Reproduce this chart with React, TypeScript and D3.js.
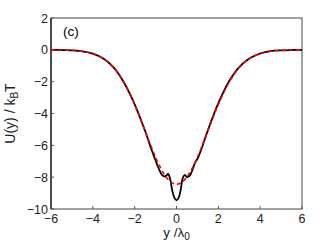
import React, { useRef, useEffect } from 'react';
import * as d3 from 'd3';

// simulated potential (black solid)
const simX = [-6, -5.5, -5, -4.5, -4, -3.5, -3, -2.5, -2, -1.5, -1.2, -1.1, -1.0, -0.9, -0.8, -0.7, -0.6, -0.5, -0.4, -0.3, -0.2, -0.1, 0,
  0.1, 0.2, 0.3, 0.4, 0.5, 0.6, 0.7, 0.8, 0.9, 1.0, 1.1, 1.2, 1.5, 2, 2.5, 3, 3.5, 4, 4.5, 5, 5.5, 6];
const simU = [0, -0.01, -0.03, -0.09, -0.24, -0.55, -1.12, -2.08, -3.42, -5.1, -6.25, -6.6, -6.95, -7.3, -7.6, -7.85, -7.95, -7.92, -7.8, -8.15, -8.85, -9.3, -9.45,
  -9.3, -8.8, -8.05, -7.85, -8.0, -7.95, -7.75, -7.4, -7.05, -6.85, -6.55, -6.2, -5.05, -3.35, -2.0, -1.08, -0.53, -0.23, -0.08, -0.03, -0.01, 0];

// smooth fit (red dashed)
const fitX = [-6, -5.5, -5, -4.5, -4, -3.5, -3, -2.5, -2, -1.75, -1.5, -1.25, -1, -0.75, -0.5, -0.25, 0,
  0.25, 0.5, 0.75, 1, 1.25, 1.5, 1.75, 2, 2.5, 3, 3.5, 4, 4.5, 5, 5.5, 6];
const fitU = [0, -0.01, -0.03, -0.09, -0.23, -0.54, -1.11, -2.07, -3.43, -4.24, -5.09, -5.94, -6.75, -7.44, -7.99, -8.33, -8.45,
  -8.33, -7.99, -7.44, -6.75, -5.94, -5.09, -4.24, -3.43, -2.07, -1.11, -0.54, -0.23, -0.09, -0.03, -0.01, 0];

const xTicks = [-6, -4, -2, 0, 2, 4, 6];
const yTicks = [-10, -8, -6, -4, -2, 0, 2];

const App = () => {
  const ref = useRef<SVGSVGElement>(null);
  useEffect(() => {
    const svg = d3.select(ref.current);
    svg.selectAll('*').remove();

    const left = 51, right = 302, top = 18, bottom = 209;
    const x = d3.scaleLinear().domain([-6, 6]).range([left, right]);
    const y = d3.scaleLinear().domain([-10, 2]).range([bottom, top]);
    const font = 'Liberation Sans, Arial, sans-serif';

    svg.append('rect').attr('width', 332).attr('height', 247).attr('fill', '#fff');

    // box
    svg.append('rect').attr('x', left).attr('y', top).attr('width', right - left).attr('height', bottom - top)
      .attr('fill', 'none').attr('stroke', '#444').attr('stroke-width', 1);
    svg.append('line').attr('x1', left).attr('x2', left).attr('y1', top).attr('y2', bottom)
      .attr('stroke', '#111').attr('stroke-width', 1.2);

    // ticks inside
    svg.selectAll('.xt').data(xTicks).join('line').attr('class', 'xt')
      .attr('x1', d => x(d)).attr('x2', d => x(d)).attr('y1', bottom).attr('y2', bottom - 3)
      .attr('stroke', '#555');
    svg.selectAll('.yt').data(yTicks).join('line').attr('class', 'yt')
      .attr('x1', left).attr('x2', left + 3).attr('y1', d => y(d)).attr('y2', d => y(d))
      .attr('stroke', '#555');

    svg.selectAll('.xl').data(xTicks).join('text').attr('class', 'xl')
      .attr('x', d => x(d)).attr('y', 222.5).attr('text-anchor', 'middle')
      .style('font-family', font).style('font-size', '12.5px').attr('fill', '#222')
      .text(d => (d < 0 ? '\u2212' + Math.abs(d) : String(d)));
    svg.selectAll('.yl').data(yTicks).join('text').attr('class', 'yl')
      .attr('x', 48).attr('y', d => y(d) + 4.5).attr('text-anchor', 'end')
      .style('font-family', font).style('font-size', '12.5px').attr('fill', '#222')
      .text(d => (d < 0 ? '\u2212' + Math.abs(d) : String(d)));

    const line = d3.line<[number, number]>().x(d => x(d[0])).y(d => y(d[1])).curve(d3.curveCatmullRom.alpha(0.5));
    const sim = simX.map((v, i) => [v, simU[i]] as [number, number]);
    const fit = fitX.map((v, i) => [v, fitU[i]] as [number, number]);

    svg.append('path').attr('d', line(sim)).attr('fill', 'none').attr('stroke', '#000').attr('stroke-width', 1.8);
    svg.append('path').attr('d', line(fit)).attr('fill', 'none').attr('stroke', '#ff0000').attr('stroke-width', 1.6)
      .attr('stroke-dasharray', '4,3');

    // panel label
    svg.append('text').attr('x', 63).attr('y', 36).style('font-family', font).style('font-size', '13.5px')
      .attr('fill', '#000').text('(c)');

    // axis labels
    const yl = svg.append('text').attr('transform', `translate(15,${(top + bottom) / 2}) rotate(-90)`)
      .attr('text-anchor', 'middle').style('font-family', font).style('font-size', '14px').attr('fill', '#222');
    yl.append('tspan').text('U(y) / k');
    yl.append('tspan').attr('baseline-shift', '-30%').style('font-size', '10px').text('B');
    yl.append('tspan').text('T');

    const xl = svg.append('text').attr('x', (left + right) / 2).attr('y', 237)
      .attr('text-anchor', 'middle').style('font-family', font).style('font-size', '13.5px').attr('fill', '#222');
    xl.append('tspan').text('y /\u03bb');
    xl.append('tspan').attr('baseline-shift', '-30%').style('font-size', '10px').text('0');
  }, []);

  return <svg ref={ref} width={332} height={247} style={{ position: 'absolute', left: 0, top: 0 }} />;
};

export default App;
